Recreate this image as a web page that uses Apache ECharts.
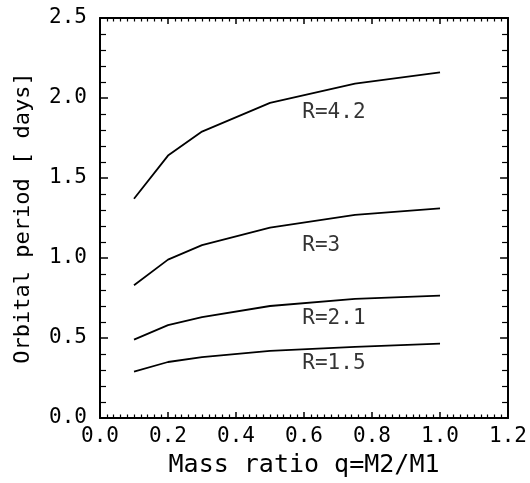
<!DOCTYPE html>
<html>
<head>
<meta charset="utf-8">
<script src="https://cdn.jsdelivr.net/npm/echarts@6/dist/echarts.min.js"></script>
<style>
  html, body { margin: 0; padding: 0; background: #fff; }
  #chart { width: 530px; height: 483px; }
</style>
</head>
<body>
<div id="chart"></div>
<script>
// mass ratio q values where the curves were computed
var q = [0.1, 0.2, 0.3, 0.5, 0.75, 1.0];
// orbital period in days for each R
var r42 = [1.37, 1.64, 1.79, 1.97, 2.09, 2.16];
var r30 = [0.83, 0.99, 1.08, 1.19, 1.27, 1.31];
var r21 = [0.49, 0.58, 0.63, 0.70, 0.745, 0.765];
var r15 = [0.29, 0.35, 0.38, 0.42, 0.445, 0.465];
// curve labels: [q, period, text]
var curveLabels = [
  [0.595, 1.91, 'R=4.2'],
  [0.595, 1.08, 'R=3'],
  [0.595, 0.62, 'R=2.1'],
  [0.595, 0.34, 'R=1.5']
];

var FONT = 'DejaVu Sans Mono';

function pairs(ys) {
  return q.map(function (x, i) { return [x, ys[i]]; });
}

function lineSeries(ys) {
  return {
    type: 'line',
    data: pairs(ys),
    symbol: 'none',
    lineStyle: { color: '#000', width: 1.8 },
    xAxisIndex: 0,
    yAxisIndex: 0,
    animation: false
  };
}

var frameLine = { show: true, onZero: false, lineStyle: { color: '#000', width: 2 } };

var myChart = echarts.init(document.getElementById('chart'));
var option = {
  backgroundColor: '#fff',
  grid: { left: 100, right: 21, top: 18, bottom: 60, containLabel: false },
  xAxis: [
    {
      type: 'value', min: 0, max: 1.2, interval: 0.2,
      name: 'Mass ratio q=M2/M1', nameLocation: 'middle', nameGap: 35,
      nameTextStyle: { fontFamily: FONT, fontSize: 25, color: '#000' },
      axisLine: frameLine,
      axisTick: { inside: true, length: 6, lineStyle: { color: '#000', width: 1.5 } },
      minorTick: { show: true, splitNumber: 10, length: 3.5, lineStyle: { color: '#000', width: 1.2 } },
      axisLabel: { fontFamily: FONT, fontSize: 21, color: '#000', margin: 8,
        formatter: function (v) { return v.toFixed(1); } },
      splitLine: { show: false }
    },
    {
      type: 'value', min: 0, max: 1.2, interval: 0.2, position: 'top',
      axisLine: frameLine,
      axisTick: { inside: true, length: 6, lineStyle: { color: '#000', width: 1.5 } },
      minorTick: { show: true, splitNumber: 10, length: 3.5, lineStyle: { color: '#000', width: 1.2 } },
      axisLabel: { show: false },
      splitLine: { show: false }
    }
  ],
  yAxis: [
    {
      type: 'value', min: 0, max: 2.5, interval: 0.5,
      name: 'Orbital period [ days]', nameLocation: 'middle', nameGap: 66, nameRotate: 90,
      nameTextStyle: { fontFamily: FONT, fontSize: 22, color: '#000' },
      axisLine: frameLine,
      axisTick: { inside: true, length: 8, lineStyle: { color: '#000', width: 1.5 } },
      minorTick: { show: true, splitNumber: 5, length: 6, lineStyle: { color: '#000', width: 1.2 } },
      axisLabel: { fontFamily: FONT, fontSize: 21, color: '#000', margin: 13,
        formatter: function (v) { return v.toFixed(1); } },
      splitLine: { show: false }
    },
    {
      type: 'value', min: 0, max: 2.5, interval: 0.5, position: 'right',
      axisLine: frameLine,
      axisTick: { inside: true, length: 8, lineStyle: { color: '#000', width: 1.5 } },
      minorTick: { show: true, splitNumber: 5, length: 6, lineStyle: { color: '#000', width: 1.2 } },
      axisLabel: { show: false },
      splitLine: { show: false }
    }
  ],
  series: [
    lineSeries(r42),
    lineSeries(r30),
    lineSeries(r21),
    lineSeries(r15),
    {
      type: 'scatter',
      data: curveLabels.map(function (d) { return { value: [d[0], d[1]], name: d[2] }; }),
      symbolSize: 0,
      animation: false,
      label: {
        show: true, position: 'right', distance: 0,
        fontFamily: FONT, fontSize: 21, color: '#000',
        formatter: function (p) { return p.name; }
      }
    }
  ]
};
myChart.setOption(option);
window.addEventListener('resize', function () {
  myChart.resize();
});
</script>
</body>
</html>
